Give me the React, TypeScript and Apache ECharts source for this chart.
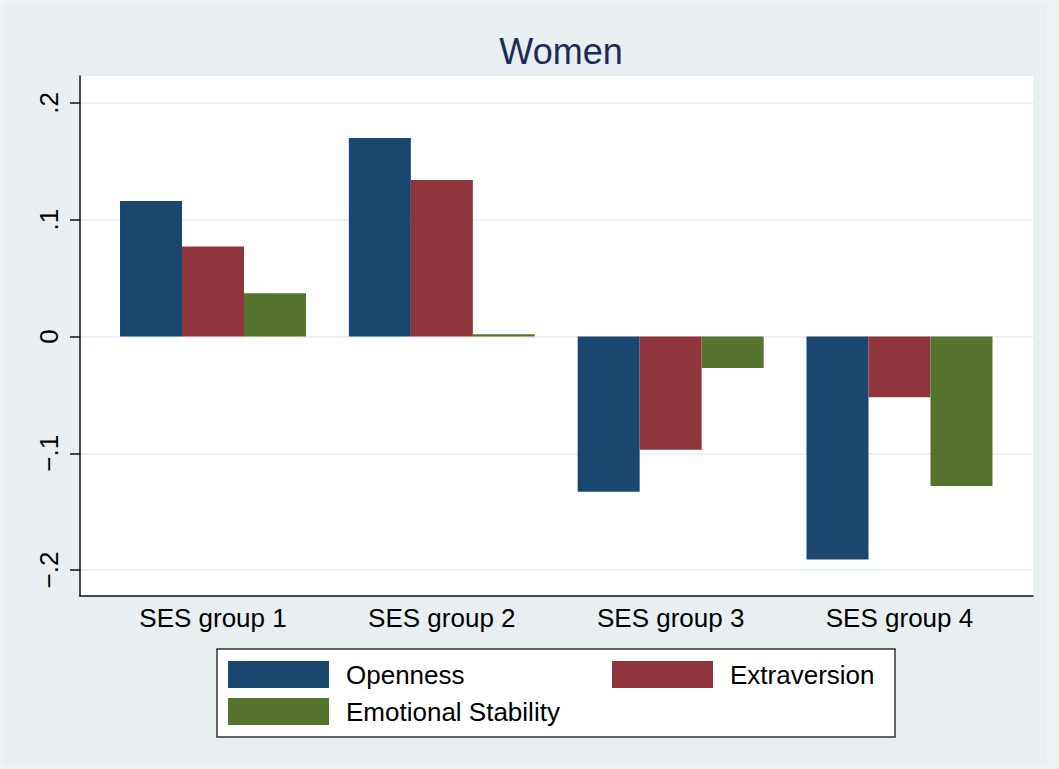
import React, { useEffect, useRef } from "react";
import * as echarts from "echarts";

const categories = ["SES group 1", "SES group 2", "SES group 3", "SES group 4"];
const openness = [0.116, 0.170, -0.133, -0.191];
const extraversion = [0.077, 0.134, -0.097, -0.052];
const emotionalStability = [0.037, 0.002, -0.027, -0.128];
const yTicks = [-0.2, -0.1, 0, 0.1, 0.2];

const FONT = "'Liberation Sans', Arial, Helvetica, sans-serif";
const C_OPEN = "#1A476F";
const C_EXTRA = "#90353B";
const C_EMO = "#55752F";

function fmtY(v: number): string {
  const r = Math.round(v * 10) / 10;
  if (r === 0) return "0";
  const s = Math.abs(r).toFixed(1).replace(/^0/, "");
  return (r < 0 ? "\u2212" : "") + s;
}

export default function App() {
  const ref = useRef<HTMLDivElement>(null);
  useEffect(() => {
    if (!ref.current) return;
    const chart = echarts.init(ref.current, undefined, { renderer: "svg" });
    const yMin = yTicks[0];
    const yMax = yTicks[yTicks.length - 1];
    const legendCommon = {
      orient: "horizontal",
      padding: 0,
      itemWidth: 101,
      itemHeight: 27,
      icon: "rect",
      textStyle: { fontSize: 26, color: "#000", fontFamily: FONT, lineHeight: 27, padding: [0, 0, 0, 12] },
    };
    chart.setOption({
      animation: false,
      backgroundColor: "#EEF2F3",
      textStyle: { fontFamily: FONT },
      title: {
        text: "Women",
        left: 556,
        textAlign: "center",
        top: 28,
        textStyle: { fontSize: 36, fontWeight: "normal", color: "#1C2A5A", fontFamily: FONT },
      },
      graphic: [
        {
          type: "rect",
          z: -10,
          shape: { x: 3, y: 3, width: 1044, height: 763 },
          style: { fill: "#E9EFF0" },
          silent: true,
        },
        {
          type: "rect",
          z: 0,
          shape: { x: 217, y: 649, width: 678, height: 88 },
          style: { fill: "#FFFFFF", stroke: "#333333", lineWidth: 1.5 },
          silent: true,
        },
      ],
      legend: [
        { ...legendCommon, data: ["Openness"], left: 228, top: 661 },
        { ...legendCommon, data: ["Extraversion"], left: 612, top: 661 },
        { ...legendCommon, data: ["Emotional Stability"], left: 228, top: 698 },
      ],
      grid: [
        { left: 80, right: 26, top: 76, bottom: 173, show: true, backgroundColor: "#FFFFFF", borderWidth: 0 },
        { left: 98.6, right: 45.1, top: 103, bottom: 199 },
        { left: 80, right: 26, top: 103, bottom: 199 },
      ],
      xAxis: [
        {
          gridIndex: 0,
          type: "value",
          min: 0,
          max: 1,
          axisLine: { show: true, lineStyle: { color: "#111", width: 1.5 } },
          axisTick: { show: false },
          axisLabel: { show: false },
          splitLine: { show: false },
        },
        {
          gridIndex: 1,
          type: "category",
          data: categories,
          axisLine: { show: false },
          axisTick: { show: false },
          axisLabel: { fontSize: 26, color: "#000", margin: 35, lineHeight: 26, fontFamily: FONT },
          splitLine: { show: false },
        },
        { gridIndex: 2, type: "value", show: false, min: 0, max: 1 },
      ],
      yAxis: [
        {
          gridIndex: 0,
          type: "value",
          min: 0,
          max: 1,
          axisLine: { show: true, lineStyle: { color: "#111", width: 1.5 } },
          axisTick: { show: false },
          axisLabel: { show: false },
          splitLine: { show: false },
        },
        { gridIndex: 1, type: "value", min: yMin, max: yMax, show: false },
        {
          gridIndex: 2,
          type: "value",
          min: yMin,
          max: yMax,
          interval: 0.1,
          axisLine: { show: false },
          axisTick: { show: true, length: 10, lineStyle: { color: "#111", width: 1.5 } },
          axisLabel: {
            rotate: 90,
            fontSize: 26,
            color: "#000",
            margin: 18,
            lineHeight: 26,
            fontFamily: FONT,
            formatter: (v: number) => fmtY(v),
          },
          splitLine: { show: true, lineStyle: { color: "#E6EEF0", width: 1.5 } },
        },
      ],
      series: [
        {
          name: "Openness",
          type: "bar",
          xAxisIndex: 1,
          yAxisIndex: 1,
          data: openness,
          barWidth: 62,
          barGap: "0%",
          itemStyle: { color: C_OPEN },
        },
        {
          name: "Extraversion",
          type: "bar",
          xAxisIndex: 1,
          yAxisIndex: 1,
          data: extraversion,
          barWidth: 62,
          barGap: "0%",
          itemStyle: { color: C_EXTRA },
        },
        {
          name: "Emotional Stability",
          type: "bar",
          xAxisIndex: 1,
          yAxisIndex: 1,
          data: emotionalStability,
          barWidth: 62,
          barGap: "0%",
          itemStyle: { color: C_EMO },
        },
      ],
    });
    return () => chart.dispose();
  }, []);
  return (
    <div
      ref={ref}
      style={{ position: "fixed", left: 0, top: 0, width: 1059, height: 769 }}
    />
  );
}
